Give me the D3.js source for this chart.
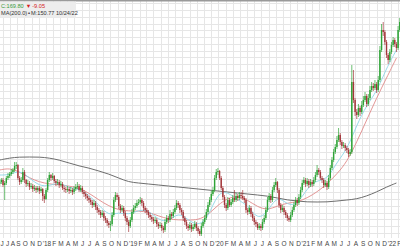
<!DOCTYPE html>
<html>
<head>
<meta charset="utf-8">
<script src="https://cdn.jsdelivr.net/npm/d3@7"></script>
<style>
  html, body { margin: 0; padding: 0; background: #fff; }
  svg { display: block; font-family: "Liberation Sans", Arial, sans-serif; }
</style>
</head>
<body>
<script>
// weekly bars, first week starting 2017-06-19
var firstWeek = new Date(2017, 5, 19);
var firstOpen = 66;

var closes = [
  68,70,65,67,72,74,76,78,80,84, 85,72,68,70,78,70,66,67,63,64,
  61,62,60,62,59,61,54,51,60,70, 75,72,74,69,67,68,65,66,62,61,
  60,61,59,60,58,61,63,64,60,62, 58,56,54,52,50,48,45,47,43,40,
  38,35,37,32,30,27,25,26,35,50, 55,53,44,40,42,37,32,28,24,30,
  38,42,44,47,48,50,47,42,40,38, 35,33,31,29,30,26,24,25,22,20,
  28,32,30,36,34,38,42,47,45,40, 38,32,28,24,22,25,21,23,26,22,
  19,16,24,28,32,38,45,50,56,60, 72,78,79,72,62,53,45,42,50,45,
  48,52,50,54,52,55,54,52,50,40, 38,42,36,32,28,26,22,24,22,28,
  32,40,50,54,50,60,65,68,60,45, 40,42,38,35,32,30,35,40,45,50,
  47,53,60,67,70,66,69,65,68,66, 70,75,80,78,72,70,65,67,63,72,
  82,90,98,103,110,115,108,104,105,102, 100,96,98,168,150,138,135,142,138,145,
  150,154,146,152,160,164,162,166,160,170, 200,220,218,208,195,190,198,205,210,206,
  202,220,228
];

var highs = [
  71,72,72,69,74,77,78,81,82,88, 88,86,74,73,82,80,71,70,69,67,
  66,65,64,64,64,63,62,56,62,72, 78,76,77,75,71,71,70,69,68,64,
  63,64,63,63,62,64,66,68,66,65, 64,60,58,56,54,52,50,50,49,45,
  42,40,40,39,34,32,29,29,38,53, 58,57,55,46,45,44,39,34,30,33,
  41,45,47,50,51,53,52,49,44,42, 40,37,35,33,33,32,28,28,27,24,
  31,35,34,40,38,41,45,50,49,47, 42,40,34,30,26,28,27,26,29,28,
  24,21,27,31,35,41,48,53,59,63, 75,81,82,80,74,64,55,47,53,52,
  51,55,60,57,56,58,58,60,54,52, 42,45,44,38,34,30,28,27,26,31,
  35,43,53,57,56,63,68,72,69,62, 47,45,44,40,37,34,38,43,48,53,
  52,56,63,70,73,72,72,71,71,70, 73,78,85,82,80,74,72,70,69,75,
  85,93,101,106,114,122,117,110,108,107, 104,102,101,185,180,152,141,146,144,149,
  154,158,156,156,164,168,167,170,168,174, 204,226,228,220,210,197,201,208,213,212,
  208,224,232
];

var lows = [
  64,66,63,50,65,70,72,74,76,78, 81,70,65,66,68,67,63,64,60,61,
  58,59,57,58,56,57,49,47,50,58, 68,69,70,67,64,65,62,63,60,58,
  57,58,56,57,55,56,59,61,58,58, 56,53,51,49,47,45,42,43,40,37,
  35,32,33,29,27,24,22,19,24,33, 48,50,41,37,38,34,29,25,18,22,
  28,36,40,42,45,46,44,39,37,35, 32,30,28,26,27,23,21,22,19,17,
  18,26,27,28,31,32,36,40,42,37, 35,29,25,21,19,20,18,19,21,19,
  16,14,14,22,26,30,36,43,48,54, 58,70,75,70,60,50,42,39,40,43,
  43,46,48,48,49,50,51,50,47,37, 35,36,33,29,25,23,20,20,19,20,
  26,30,38,48,47,48,58,63,57,42, 37,38,35,32,29,28,28,33,38,43,
  44,45,51,58,65,63,64,62,63,63, 64,68,73,75,70,67,62,63,60,61,
  70,80,88,96,101,108,105,101,102,99, 97,93,94,96,147,134,131,133,134,136,
  143,148,143,144,150,158,159,160,157,158, 168,198,214,205,192,186,188,196,203,203,
  198,200,218
];

// moving averages, read every 6 weeks
var maStep = 6;
var maFast = [75,75,80,72,64,64,68,62,61,55, 45,34,38,35,40,40,30,28,38,30,
              24,32,58,58,50,45,30,38,55,45, 45,62,70,70,88,100,125,145,158,182, 200];
var maMid  = [80,82,78,72,68,66,65,64,62,57, 50,44,40,39,39,38,34,31,30,30,
              30,35,45,52,54,50,43,40,44,47, 48,52,58,66,76,88,108,130,152,172, 192];
var maSlow = [90,92,93,93,93,92,90,87,84,82, 79,76,72,68,67,66,65,64,63,62,
              61,60,59,58,57,56,55,54,52,50, 49,48,48,48,49,50,51,54,58,63, 67];

var monthLetters = ["J","F","M","A","M","J","J","A","S","O","N","D"];

var legendClose = "C:169.80";
var legendChange = "-9.05";
var legendMA = "MA(200.0)";
var legendMAValue = "M:150.77 10/24/22";

function init() {
    var w = 400;
    var h = 250;
    var plotTop = 1;
    var plotBottom = 238;

    var svg = d3.select("body")
        .append("svg")
        .attr("width", w)
        .attr("height", h);

    var x = d3.scaleTime()
        .domain([new Date(2018, 0, 1), new Date(2022, 0, 1)])
        .range([46, 391]);

    var y = d3.scaleLinear()
        .domain([0, 250])
        .range([250, 0]);

    var weeks = closes.map(function(c, i) {
        return {
            date: d3.timeDay.offset(firstWeek, 7 * i),
            open: i === 0 ? firstOpen : closes[i - 1],
            close: c,
            high: highs[i],
            low: lows[i]
        };
    });

    // grid
    var months = d3.timeMonth.range(new Date(2017, 5, 1), new Date(2022, 2, 1));
    svg.append("g")
        .selectAll("line")
        .data(months)
        .enter()
        .append("line")
        .attr("x1", d => Math.round(x(d)) + 0.5)
        .attr("x2", d => Math.round(x(d)) + 0.5)
        .attr("y1", plotTop)
        .attr("y2", plotBottom)
        .attr("stroke", "#e6e6e6");

    var levels = d3.range(246.7, 12, -6.75);
    svg.append("g")
        .selectAll("line")
        .data(levels)
        .enter()
        .append("line")
        .attr("x1", 0)
        .attr("x2", w)
        .attr("y1", d => Math.round(y(d)) + 0.5)
        .attr("y2", d => Math.round(y(d)) + 0.5)
        .attr("stroke", "#e6e6e6");

    // top border
    svg.append("rect")
        .attr("x", 0).attr("y", 0)
        .attr("width", w).attr("height", 1.5)
        .attr("fill", "#9a9a9a");

    // moving averages
    function maLine(values, color, width) {
        var line = d3.line()
            .x((d, i) => x(d3.timeDay.offset(firstWeek, 7 * maStep * i)))
            .y(d => y(d))
            .curve(d3.curveBasis);
        svg.append("path")
            .datum(values)
            .attr("d", line)
            .attr("fill", "none")
            .attr("stroke", color)
            .attr("stroke-width", width);
    }
    maLine(maSlow, "#6e6e6e", 1);
    maLine(maMid, "#e08a8a", 0.9);
    maLine(maFast, "#8fd6e6", 0.9);

    // candles
    var up = "#2ea336";
    var down = "#a3363a";
    var candles = svg.append("g")
        .selectAll("g")
        .data(weeks)
        .enter()
        .append("g");

    candles.append("line")
        .attr("x1", d => x(d.date))
        .attr("x2", d => x(d.date))
        .attr("y1", d => y(d.high))
        .attr("y2", d => y(d.low))
        .attr("stroke", d => d.close >= d.open ? up : down)
        .attr("stroke-width", 0.7);

    candles.append("rect")
        .attr("x", d => x(d.date) - 0.7)
        .attr("width", 1.4)
        .attr("y", d => y(Math.max(d.open, d.close)))
        .attr("height", d => Math.max(0.7, Math.abs(y(d.open) - y(d.close))))
        .attr("fill", d => d.close >= d.open ? up : down);

    // month labels, nudged apart where the first ones crowd the left edge
    var labelX = [];
    months.forEach(function(d, i) {
        var px = Math.max(2, x(d) + 1);
        if (i > 0) px = Math.max(px, labelX[i - 1] + 5.5);
        labelX.push(px);
    });

    svg.append("g")
        .selectAll("text")
        .data(months)
        .enter()
        .append("text")
        .attr("x", (d, i) => labelX[i])
        .attr("y", 246)
        .attr("text-anchor", "middle")
        .attr("font-size", 6.5)
        .attr("fill", "#444")
        .text(d => d.getMonth() === 0 ? "'" + String(d.getFullYear()).slice(2) : monthLetters[d.getMonth()]);

    // legend box
    var legend = svg.append("g");
    legend.append("rect")
        .attr("x", 0).attr("y", 1.5)
        .attr("width", 76).attr("height", 16)
        .attr("fill", "#ededed");

    var t1 = legend.append("text")
        .attr("x", 1).attr("y", 7.5)
        .attr("font-size", 5.6);
    t1.append("tspan").attr("fill", "#3a9a3a").text(legendClose);
    t1.append("tspan").attr("fill", "#d42020").attr("dx", 2).text("\u25BC");
    t1.append("tspan").attr("fill", "#d42020").attr("dx", 1).text(legendChange);

    var t2 = legend.append("text")
        .attr("x", 1).attr("y", 15)
        .attr("font-size", 5.6)
        .attr("fill", "#333");
    t2.append("tspan").text(legendMA);
    t2.append("tspan").attr("dx", 1).text("\u25AA");
    t2.append("tspan").attr("dx", 1).text(legendMAValue);
}

window.onload = init;
</script>
</body>
</html>
